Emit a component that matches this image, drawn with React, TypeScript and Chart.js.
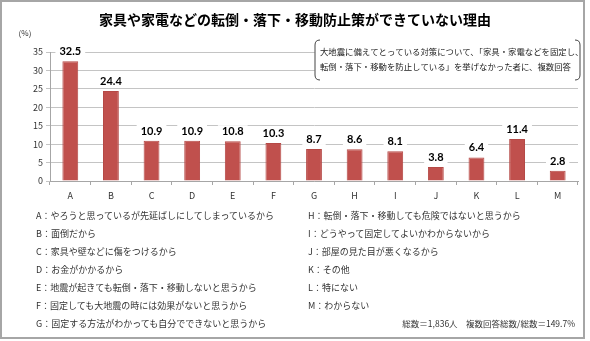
import React, { useEffect, useRef } from "react";
import { Chart, registerables } from "chart.js";

Chart.register(...registerables);

const TITLE = "家具や家電などの転倒・落下・移動防止策ができていない理由";
const UNIT = "(%)";
const CATEGORIES = ["A", "B", "C", "D", "E", "F", "G", "H", "I", "J", "K", "L", "M"];
const VALUES = [32.5, 24.4, 10.9, 10.9, 10.8, 10.3, 8.7, 8.6, 8.1, 3.8, 6.4, 11.4, 2.8];
const NOTE_LINES = [
  "大地震に備えてとっている対策について、「家具・家電などを固定し、",
  "転倒・落下・移動を防止している」を挙げなかった者に、複数回答",
];
const LEFT_ITEMS = [
  "A：やろうと思っているが先延ばしにしてしまっているから",
  "B：面倒だから",
  "C：家具や壁などに傷をつけるから",
  "D：お金がかかるから",
  "E：地震が起きても転倒・落下・移動しないと思うから",
  "F：固定しても大地震の時には効果がないと思うから",
  "G：固定する方法がわかっても自分でできないと思うから",
];
const RIGHT_ITEMS = [
  "H：転倒・落下・移動しても危険ではないと思うから",
  "I：どうやって固定してよいかわからないから",
  "J：部屋の見た目が悪くなるから",
  "K：その他",
  "L：特にない",
  "M：わからない",
];
const FOOTNOTE = "総数＝1,836人　複数回答総数/総数＝149.7%";

const JP = '"Noto Sans CJK JP", "Noto Sans", sans-serif';

export default function App() {
  const ref = useRef<HTMLCanvasElement | null>(null);

  useEffect(() => {
    document.body.style.margin = "0";
    const canvas = ref.current;
    if (!canvas) return;

    const decor = {
      id: "decor",
      afterDraw(chart: any) {
        const ctx = chart.ctx;
        ctx.save();
        // title
        ctx.fillStyle = "#000";
        ctx.font = `bold 14px ${JP}`;
        ctx.textAlign = "center";
        ctx.textBaseline = "middle";
        ctx.fillText(TITLE, 295, 20);
        // unit
        ctx.font = `8px ${JP}`;
        ctx.fillStyle = "#333";
        ctx.fillText(UNIT, 25, 33);

        // data labels
        const meta = chart.getDatasetMeta(0);
        ctx.font = `bold 11px Lato, ${JP}`;
        meta.data.forEach((bar: any, i: number) => {
          const txt = VALUES[i].toFixed(1);
          const w = ctx.measureText(txt).width;
          const cy = bar.y - 10;
          ctx.fillStyle = "#fff";
          ctx.fillRect(bar.x - w / 2 - 4, cy - 6, w + 8, 12);
          ctx.fillStyle = "#000";
          ctx.fillText(txt, bar.x, cy + 0.5);
        });

        // note box
        const x0 = 315, x1 = 580, y0 = 40, y1 = 80, r = 5;
        ctx.fillStyle = "#fff";
        ctx.fillRect(x0, y0, x1 - x0, y1 - y0);
        ctx.strokeStyle = "#444";
        ctx.lineWidth = 1;
        ctx.beginPath();
        ctx.moveTo(x0 + r, y0);
        ctx.quadraticCurveTo(x0, y0, x0, y0 + r);
        ctx.lineTo(x0, y1 - r);
        ctx.quadraticCurveTo(x0, y1, x0 + r, y1);
        ctx.moveTo(x1 - r, y0);
        ctx.quadraticCurveTo(x1, y0, x1, y0 + r);
        ctx.lineTo(x1, y1 - r);
        ctx.quadraticCurveTo(x1, y1, x1 - r, y1);
        ctx.stroke();
        ctx.fillStyle = "#222";
        ctx.font = `8.4px ${JP}`;
        ctx.textAlign = "left";
        ctx.fillText(NOTE_LINES[0], 320, 52);
        ctx.fillText(NOTE_LINES[1], 320, 67);
        ctx.restore();
      },
    };

    const chart = new Chart(canvas, {
      type: "bar",
      data: {
        labels: CATEGORIES,
        datasets: [
          {
            data: VALUES,
            backgroundColor: "#C0504D",
            borderColor: "#B54946",
            borderWidth: 1,
            barPercentage: 0.39,
            categoryPercentage: 1,
          },
        ],
      },
      options: {
        responsive: false,
        animation: false,
        devicePixelRatio: 1,
        layout: { padding: { top: 52, right: 12, bottom: 138, left: 0 } },
        plugins: { legend: { display: false }, tooltip: { enabled: false }, title: { display: false } },
        scales: {
          y: {
            min: 0,
            max: 35,
            ticks: { stepSize: 5, color: "#333", font: { family: JP, size: 9 }, padding: 3 },
            grid: { color: "#c4c4c4", lineWidth: 1, tickLength: 4, drawTicks: true },
            border: { color: "#a6a6a6" },
            afterFit: (s: any) => {
              s.width = 50;
            },
          },
          x: {
            ticks: { color: "#333", font: { family: JP, size: 9 }, padding: 5 },
            grid: { offset: true, drawOnChartArea: false, tickLength: 4, color: "#a6a6a6" },
            border: { color: "#a6a6a6" },
            afterFit: (s: any) => {
              s.height = 22;
            },
          },
        },
      },
      plugins: [decor],
    });
    return () => chart.destroy();
  }, []);

  const rowStyle: React.CSSProperties = {
    height: 18,
    lineHeight: "18px",
    whiteSpace: "nowrap",
  };
  const colStyle = (left: number): React.CSSProperties => ({
    position: "absolute",
    left,
    top: 207,
    fontFamily: JP,
    fontSize: 9,
    color: "#333",
  });

  return (
    <div style={{ position: "relative", width: 590, height: 341, background: "#fff", overflow: "hidden" }}>
      <canvas ref={ref} width={590} height={341} style={{ position: "absolute", left: 0, top: 0 }} />
      <div style={colStyle(36)}>
        {LEFT_ITEMS.map((t) => (
          <div key={t} style={rowStyle}>{t}</div>
        ))}
      </div>
      <div style={colStyle(308)}>
        {RIGHT_ITEMS.map((t) => (
          <div key={t} style={rowStyle}>{t}</div>
        ))}
      </div>
      <div
        style={{
          position: "absolute",
          right: 15,
          top: 316,
          fontFamily: JP,
          fontSize: 8.5,
          color: "#333",
          whiteSpace: "nowrap",
          lineHeight: "14px",
        }}
      >
        {FOOTNOTE}
      </div>
      <div
        style={{
          position: "absolute",
          left: 0,
          top: 0,
          width: 585,
          height: 339,
          border: "2px solid #a6a6a6",
          boxSizing: "border-box",
          pointerEvents: "none",
        }}
      />
    </div>
  );
}
